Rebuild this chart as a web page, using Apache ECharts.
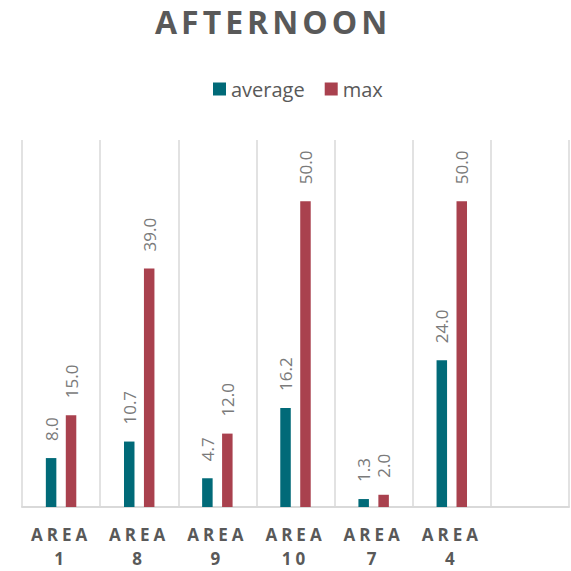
<!DOCTYPE html>
<html>
<head>
<meta charset="utf-8">
<script src="https://cdn.jsdelivr.net/npm/echarts@6/dist/echarts.min.js"></script>
<style>
  html, body { margin: 0; padding: 0; background: #ffffff; }
  #chart { width: 571px; height: 571px; }
  #chart text[style*="bold"] { letter-spacing: 4px; }
  #chart text[style*="32px"] { letter-spacing: 4px; }
</style>
</head>
<body>
<div id="chart"></div>
<script>
const categories = ['AREA 1', 'AREA 8', 'AREA 9', 'AREA 10', 'AREA 7', 'AREA 4', ''];
const averageValues = [8.0, 10.7, 4.7, 16.2, 1.3, 24.0, '-'];
const maxValues = [15.0, 39.0, 12.0, 50.0, 2.0, 50.0, '-'];
const seriesNames = ['average', 'max'];
const titleText = 'AFTERNOON';

const chart = echarts.init(document.getElementById('chart'), null, { renderer: 'svg' });

const labelStyle = {
  show: true,
  position: 'top',
  rotate: 90,
  align: 'left',
  verticalAlign: 'middle',
  distance: 17,
  fontFamily: 'Open Sans',
  fontSize: 17,
  color: '#7a7a7a',
  formatter: p => Number(p.value).toFixed(1)
};

chart.setOption({
  animation: false,
  backgroundColor: '#ffffff',
  title: {
    text: titleText,
    left: 155,
    top: 5,
    padding: 0,
    textStyle: { fontFamily: 'Open Sans', fontSize: 32, fontWeight: 'bold', color: '#595959' }
  },
  legend: {
    data: seriesNames,
    left: 213,
    top: 79,
    padding: 0,
    itemWidth: 13,
    itemHeight: 13,
    itemGap: 20,
    icon: 'rect',
    textStyle: { fontFamily: 'Open Sans', fontSize: 20, color: '#595959' }
  },
  grid: { left: 22, right: 2, top: 140, bottom: 64, containLabel: false },
  xAxis: {
    type: 'category',
    data: categories,
    boundaryGap: true,
    axisLine: { show: true, lineStyle: { color: '#d9d9d9', width: 2 } },
    axisTick: { show: false },
    splitLine: { show: true, showMinLine: true, showMaxLine: true, lineStyle: { color: '#d9d9d9', width: 1.5 } },
    axisLabel: {
      interval: 0,
      margin: 15,
      fontFamily: 'Open Sans',
      fontSize: 17,
      fontWeight: 'bold',
      lineHeight: 24,
      color: '#595959',
      formatter: v => v.replace(' ', '\n')
    }
  },
  yAxis: {
    type: 'value',
    min: 0,
    max: 60,
    show: false,
    splitLine: { show: false }
  },
  series: [
    {
      name: seriesNames[0],
      type: 'bar',
      data: averageValues,
      barWidth: 10.5,
      barGap: '90%',
      itemStyle: { color: '#016a78' },
      label: labelStyle
    },
    {
      name: seriesNames[1],
      type: 'bar',
      data: maxValues,
      barWidth: 10.5,
      barGap: '90%',
      itemStyle: { color: '#a9414e' },
      label: labelStyle
    }
  ]
});
</script>
</body>
</html>
